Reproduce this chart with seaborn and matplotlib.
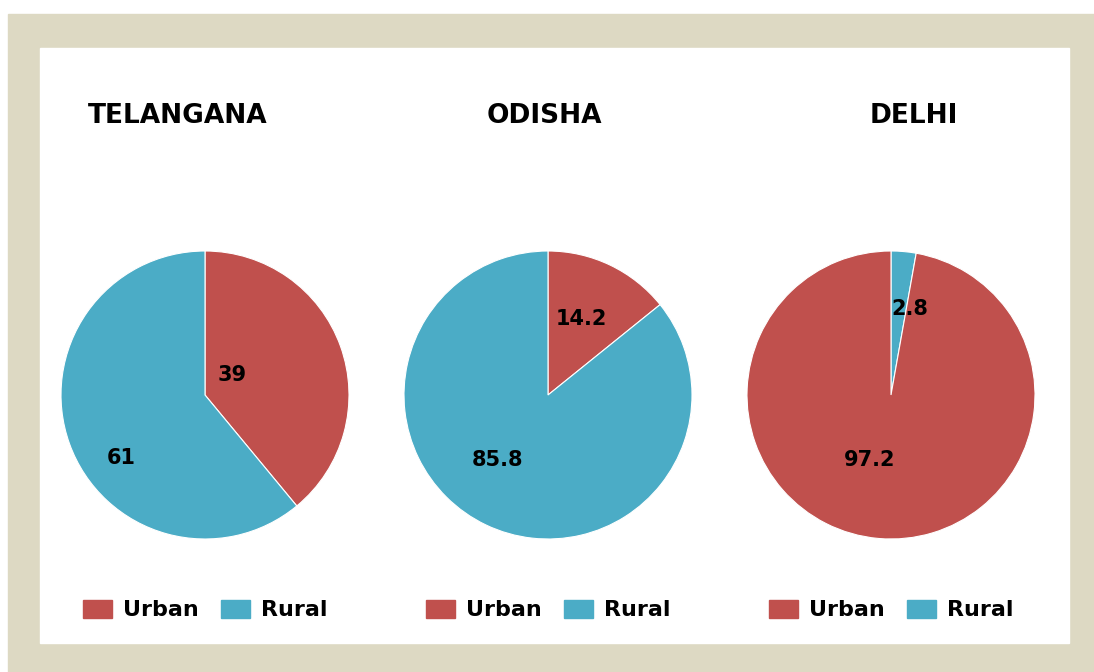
import matplotlib
matplotlib.use("Agg")
import matplotlib.pyplot as plt
import matplotlib.patches as mpatches
import seaborn as sns

# data
states = ["TELANGANA", "ODISHA", "DELHI"]
urban = [39, 14.2, 97.2]
rural = [61, 85.8, 2.8]
first_slice = ["Urban", "Urban", "Rural"]  # slice drawn first, clockwise from 12 o'clock

sns.set_theme(style="white")
plt.rcParams['font.family'] = ['DejaVu Sans']

red, blue = "#c0504d", "#4bacc6"
beige = "#ddd9c3"

W, H = 1094, 672
fig = plt.figure(figsize=(W / 100, H / 100), dpi=100)
fig.patch.set_facecolor("white")

# beige frame and white panel (pixel coords -> figure fraction)
def frac_rect(x0, y0, x1, y1, color):
    fig.patches.append(mpatches.Rectangle((x0 / W, 1 - y1 / H), (x1 - x0) / W, (y1 - y0) / H,
                                          transform=fig.transFigure, color=color, zorder=-2))

frac_rect(8, 14, W, H, beige)
frac_rect(40, 48, 1069, 643, "white")

centers_x = [205, 548, 891]
center_y = 395
radius_px = 144
title_x = [178, 544, 914]
# label offsets as fraction of radius (first slice, second slice)
label_pos = [[(0.19, 0.14), (-0.58, -0.44)],
             [(0.23, 0.53), (-0.35, -0.45)],
             [(0.13, 0.60), (-0.15, -0.45)]]

for i, state in enumerate(states):
    cx = centers_x[i]
    ax = fig.add_axes([(cx - radius_px) / W, (H - center_y - radius_px) / H,
                       2 * radius_px / W, 2 * radius_px / H])
    ax.set_zorder(2)
    if first_slice[i] == "Urban":
        vals, cols = [urban[i], rural[i]], [red, blue]
    else:
        vals, cols = [rural[i], urban[i]], [blue, red]
    wedges, texts, autotexts = ax.pie(
        vals, colors=cols, startangle=90, counterclock=False, radius=1,
        autopct=lambda p: "", wedgeprops=dict(edgecolor="white", linewidth=0.8))
    for j, at in enumerate(autotexts):
        at.set_text(f"{vals[j]:g}")
        at.set_position(label_pos[i][j])
        at.set_fontsize(15)
        at.set_fontweight("bold")
        at.set_color("black")
        at.set_ha("center")
        at.set_va("center")
    ax.set_xlim(-1, 1)
    ax.set_ylim(-1, 1)
    ax.axis("off")

    fig.text(title_x[i] / W, 1 - 116 / H, state, ha="center", va="center",
             fontsize=19, fontweight="bold", color="black")

    handles = [mpatches.Patch(color=red, label="Urban"), mpatches.Patch(color=blue, label="Rural")]
    leg = fig.legend(handles=handles, loc="center", bbox_to_anchor=(cx / W, 1 - 610 / H),
                     ncol=2, frameon=False, prop=dict(size=16, weight="bold"),
                     handlelength=1.3, handleheight=0.9, handletextpad=0.5, columnspacing=1.0)
    for t in leg.get_texts():
        t.set_color("black")

fig.savefig("out.png", dpi=100, facecolor="white")
